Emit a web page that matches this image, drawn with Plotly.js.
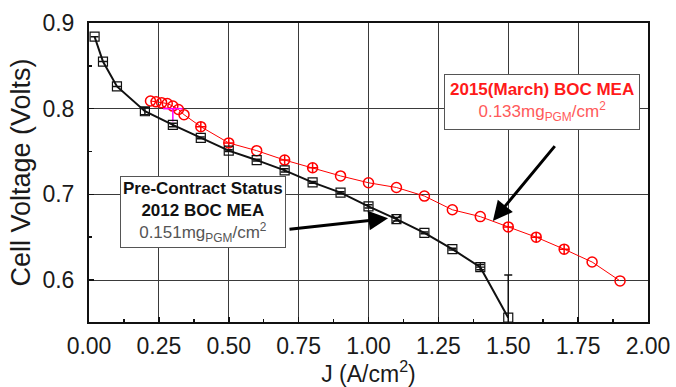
<!DOCTYPE html>
<html>
<head>
<meta charset="utf-8">
<script src="https://cdn.plot.ly/plotly-3.0.1.min.js"></script>
<style>html,body{margin:0;padding:0;background:#fff;}#chart{width:676px;height:387px;}</style>
</head>
<body>
<div id="chart"></div>
<script>
// 2012 BOC MEA (pre-contract status)
var j2012 = [0.02, 0.05, 0.1, 0.2, 0.3, 0.4, 0.5, 0.6, 0.7, 0.8, 0.9, 1.0, 1.1, 1.2, 1.3, 1.4, 1.5];
var v2012 = [0.884, 0.855, 0.826, 0.797, 0.781, 0.766, 0.751, 0.740, 0.728, 0.714, 0.702, 0.686, 0.671, 0.655, 0.636, 0.615, 0.556];
var err2012 = [0, 0, 0, 0.004, 0.002, 0.001, 0.001, 0.001, 0.002, 0.001, 0.001, 0.002, 0.002, 0.001, 0.001, 0.003, 0.050];
var sym2012 = ['square-open','square-open','square-open','square-open','square-open','square-open','square-open','square-open','square-open','square-open','square-open','square-open','square-x-open','square-open','square-open','square-cross-open','square-open'];

// 2015 (March) BOC MEA
var j2015 = [0.22, 0.24, 0.26, 0.28, 0.30, 0.32, 0.34, 0.4, 0.5, 0.6, 0.7, 0.8, 0.9, 1.0, 1.1, 1.2, 1.3, 1.4, 1.5, 1.6, 1.7, 1.8, 1.9];
var v2015 = [0.809, 0.808, 0.807, 0.806, 0.803, 0.799, 0.793, 0.779, 0.760, 0.751, 0.740, 0.731, 0.7215, 0.7135, 0.708, 0.698, 0.682, 0.674, 0.662, 0.650, 0.636, 0.621, 0.599];
var sym2015 = ['circle-open','circle-open','circle-open','circle-open','circle-open','circle-open','circle-open','circle-cross-open','circle-cross-open','circle-open','circle-cross-open','circle-cross-open','circle-open','circle-open','circle-open','circle-open','circle-open','circle-open','circle-cross-open','circle-cross-open','circle-cross-open','circle-open','circle-open'];

// magenta error marker near the early 2015 points
var jMag = [0.30];
var vMag = [0.800];

var xTicks = [0, 0.25, 0.5, 0.75, 1.0, 1.25, 1.5, 1.75, 2.0];
var xTickText = ['0.00','0.25','0.50','0.75','1.00','1.25','1.50','1.75','2.00'];
var yTicks = [0.6, 0.7, 0.8, 0.9];
var yTickText = ['0.6','0.7','0.8','0.9'];

var font = 'Liberation Sans, Arial, sans-serif';

var traces = [
  {
    x: j2015, y: v2015, type: 'scatter', mode: 'lines+markers', name: '2015',
    line: {color: '#ff0000', width: 1},
    marker: {symbol: sym2015, size: 10, color: '#ff0000', line: {color: '#ff0000', width: 1.5}},
    cliponaxis: true
  },
  {
    x: jMag, y: vMag, type: 'scatter', mode: 'markers', name: 'err',
    marker: {size: 1, color: 'rgba(0,0,0,0)'},
    error_y: {type: 'data', symmetric: false, array: [0], arrayminus: [0.015], color: '#ff00ff', thickness: 1.5, width: 0},
    error_x: {type: 'data', array: [0.035], color: '#ff00ff', thickness: 1.5, width: 0}
  },
  {
    x: j2012, y: v2012, type: 'scatter', mode: 'lines+markers', name: '2012',
    line: {color: '#111111', width: 2},
    marker: {symbol: sym2012, size: 9, color: '#111111', line: {color: '#111111', width: 1.2}},
    error_y: {type: 'data', symmetric: false, array: err2012, arrayminus: err2012, color: '#111111', thickness: 1.5, width: 4},
    cliponaxis: true
  }
];

var layout = {
  width: 676, height: 387,
  margin: {l: 89, r: 28, t: 23, b: 65},
  paper_bgcolor: '#ffffff', plot_bgcolor: '#ffffff',
  showlegend: false,
  font: {family: font, color: '#1a1a1a'},
  xaxis: {
    range: [0, 2.0], tickvals: xTicks, ticktext: xTickText,
    showgrid: true, gridcolor: '#3a3a3a', gridwidth: 1,
    showline: true, linecolor: '#111111', linewidth: 2, mirror: true,
    ticks: 'inside', ticklen: 5, tickcolor: '#111111', tickwidth: 1.5,
    ticklabelstandoff: 2,
    minor: {dtick: 0.125, tick0: 0, ticks: 'inside', ticklen: 3, tickcolor: '#111111', showgrid: false},
    tickfont: {size: 23, family: font, color: '#1a1a1a'},
    zeroline: false,
    title: {text: 'J (A/cm<sup>2</sup>)', font: {size: 23, family: font, color: '#1a1a1a'}, standoff: 0}
  },
  yaxis: {
    range: [0.551, 0.9], tickvals: yTicks, ticktext: yTickText,
    showgrid: true, gridcolor: '#3a3a3a', gridwidth: 1,
    showline: true, linecolor: '#111111', linewidth: 2, mirror: true,
    ticks: 'inside', ticklen: 5, tickcolor: '#111111', tickwidth: 1.5,
    ticklabelstandoff: 8,
    minor: {dtick: 0.05, tick0: 0.55, ticks: 'inside', ticklen: 3, tickcolor: '#111111', showgrid: false},
    tickfont: {size: 23, family: font, color: '#1a1a1a'},
    zeroline: false,
    title: {text: 'Cell Voltage (Volts)', font: {size: 27, family: font, color: '#1a1a1a'}, standoff: 4}
  },
  annotations: [
    {
      x: 1.070, y: 0.672, ax: 0.712, ay: 0.659, axref: 'x', ayref: 'y', xref: 'x', yref: 'y',
      text: '', showarrow: true, arrowhead: 2, arrowsize: 1.3, arrowwidth: 3, arrowcolor: '#000000'
    },
    {
      x: 1.445, y: 0.669, ax: 1.671, ay: 0.758, axref: 'x', ayref: 'y', xref: 'x', yref: 'y',
      text: '', showarrow: true, arrowhead: 2, arrowsize: 1.3, arrowwidth: 3, arrowcolor: '#000000'
    },
    {
      x: 0.408, y: 0.679, xref: 'x', yref: 'y', showarrow: false,
      text: '<b>Pre-Contract Status</b><br><b>2012 BOC MEA</b><br><span style="color:#555555">0.151mg<sub>PGM</sub>/cm<sup>2</sup></span>',
      font: {size: 17, family: font, color: '#111111'},
      bgcolor: '#ffffff', bordercolor: '#555555', borderwidth: 1, borderpad: 2, align: 'center'
    },
    {
      x: 1.621, y: 0.808, xref: 'x', yref: 'y', showarrow: false,
      text: '<b>2015(March) BOC MEA</b><br><span style="color:#ff5a5a">0.133mg<sub>PGM</sub>/cm<sup>2</sup></span>',
      font: {size: 17, family: font, color: '#ff1a1a'},
      bgcolor: '#ffffff', bordercolor: '#555555', borderwidth: 1, borderpad: 5, align: 'center'
    }
  ]
};

Plotly.newPlot('chart', traces, layout, {displayModeBar: false, staticPlot: true});
</script>
</body>
</html>
